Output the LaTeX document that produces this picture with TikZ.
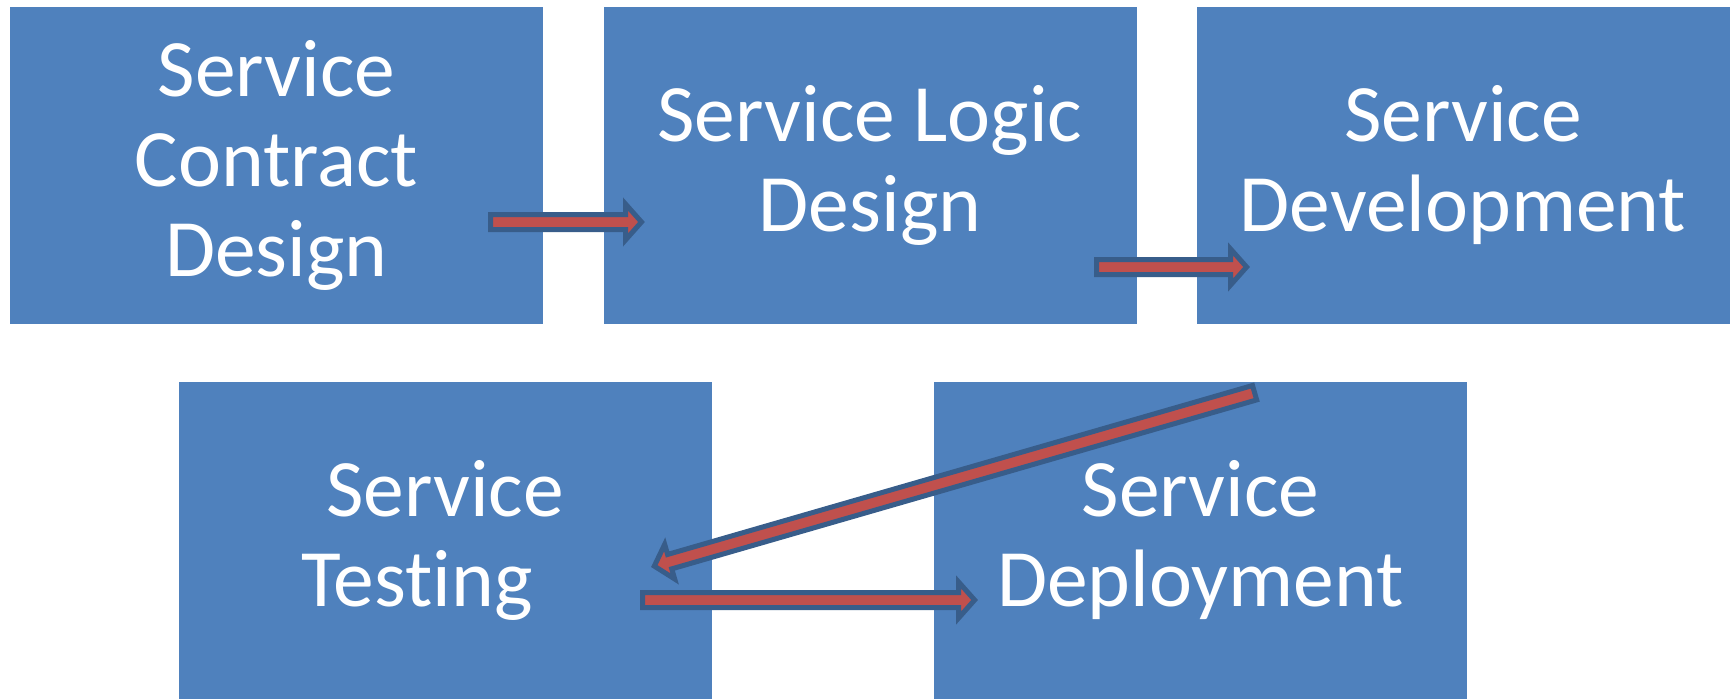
\documentclass[tikz,border=0pt]{standalone}
\usepackage{fontspec}
\setmainfont{Carlito}[Ligatures=NoCommon]
\usetikzlibrary{calc}
\definecolor{boxblue}{HTML}{4F81BD}
\definecolor{arrred}{HTML}{C0504D}
\definecolor{arrline}{HTML}{385D8A}
\tikzset{
  stage/.style={fill=boxblue, minimum width=533pt, minimum height=317pt, inner sep=0pt,
    align=center, text=white, font=\fontsize{81.5}{90}\selectfont},
  blockarr/.style={fill=arrred, draw=arrline, line width=5pt, line join=miter, miter limit=10},
}
\newcommand\blockarrow[3]{%
  \coordinate (#1h) at ($(#3)!16pt!(#2)$);
  \filldraw[blockarr] ($(#2)!7.5pt!90:(#3)$) -- ($(#1h)!7.5pt!90:(#3)$) -- ($(#1h)!18pt!90:(#3)$)
    -- (#3) -- ($(#1h)!18pt!-90:(#3)$) -- ($(#1h)!7.5pt!-90:(#3)$) -- ($(#2)!7.5pt!-90:(#3)$) -- cycle;
}
\begin{document}
\begin{tikzpicture}[x=1pt,y=-1pt]
\useasboundingbox (0,0) rectangle (1732,699);
\node[stage] (b1) at (276.5,165.5) {Service\\Contract\\Design};
\node[stage] (b2) at (870,165.5) {Service Logic\\Design};
\node[stage] (b3) at (1463,165.5) {Service\\Development};
\node[stage] (b4) at (445,540.5) {Service\\Testing\hspace*{56pt}};
\node[stage] (b5) at (1200.5,540.5) {Service\\Deployment};
% connector ends inside the boxes
\coordinate (a1s) at (490.5,222);
\coordinate (a1e) at (641.5,222);
\coordinate (a2s) at (1096.5,267);
\coordinate (a2e) at (1246.6,267);
\coordinate (a3s) at (1254.6,392.7);
\coordinate (a3e) at (654.3,566.1);
\coordinate (a4s) at (642.5,600);
\coordinate (a4e) at (974.6,600);
\blockarrow{a1}{a1s}{a1e}
\blockarrow{a2}{a2s}{a2e}
\blockarrow{a3}{a3s}{a3e}
\blockarrow{a4}{a4s}{a4e}
\end{tikzpicture}
\end{document}
